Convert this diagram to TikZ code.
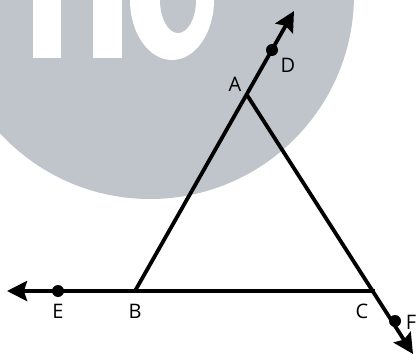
\documentclass[tikz,border=0pt]{standalone}
\usepackage{fontspec}
\setmainfont{Open Sans}
\usetikzlibrary{arrows.meta}
\definecolor{wm}{RGB}{192,196,203}
\begin{document}
\begin{tikzpicture}[x=1pt,y=-1pt,
  geo/.style={line width=3.8pt, black},
  tip/.style={-{Stealth[length=20pt,width=20pt,inset=3pt]}},
  dot/.style={circle, fill=black, inner sep=0pt, minimum size=12pt},
  lab/.style={font=\fontsize{20}{20}\selectfont, inner sep=0pt}]
\useasboundingbox (0,0) rectangle (417,355);
\begin{scope}
\clip (0,0) rectangle (417,355);
% watermark
\fill[wm] (150,-5) circle[radius=204];
\fill[white] (33,-20) rectangle (61,58);
\fill[white] (93,-20) rectangle (122,58);
\fill[white] (172,0) ellipse[x radius=42, y radius=60];
\fill[wm] (178,0) ellipse[x radius=18, y radius=33];
% points
\coordinate (B) at (135,291);
\coordinate (A) at (247,95);
\coordinate (C) at (375,291);
\coordinate (T) at (294,11);
\coordinate (W) at (7,291);
\coordinate (S) at (413,354);
\node[dot] (D) at (272,50) {};
\node[dot] (E) at (58,291) {};
\node[dot] (F) at (395,321) {};
% lines
\draw[geo, tip] (B) -- (T);
\draw[geo, tip] (A) -- (S);
\draw[geo, tip] (C) -- (W);
% labels
\node[lab] (lA) at (235,84) {A};
\node[lab] (lD) at (288,65) {D};
\node[lab] (lE) at (58,311) {E};
\node[lab] (lB) at (135,311) {B};
\node[lab] (lC) at (362,311) {C};
\node[lab] (lF) at (411,322) {F};
\end{scope}
\end{tikzpicture}
\end{document}
